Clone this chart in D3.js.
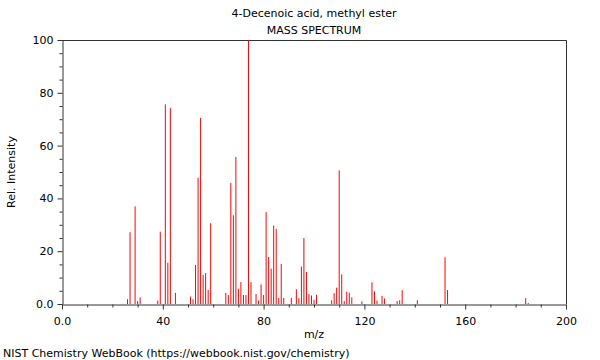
<!DOCTYPE html>
<html>
<head>
<meta charset="utf-8">
<script src="https://cdn.jsdelivr.net/npm/d3@7"></script>
<style>
  html, body { margin: 0; padding: 0; background: #fff; }
  svg { display: block; font-family: "DejaVu Sans", sans-serif; }
</style>
</head>
<body>
<svg id="chart" width="600" height="360"></svg>
<script>
// ---- Data ----
const mz = [26, 27, 29, 30, 31, 38, 39, 41, 42, 43, 45,
  51, 52, 53, 54, 55, 56, 57, 58, 59,
  65, 66, 67, 68, 69, 70, 71, 72, 73, 74, 75, 77, 78, 79, 80,
  81, 82, 83, 84, 85, 86, 87, 88, 91, 93, 94, 95, 96, 97, 98, 99, 100, 101,
  107, 108, 109, 110, 111, 112, 113, 114, 115, 119,
  123, 124, 125, 127, 128, 133, 134, 135, 141, 152, 153, 184, 185];
const intensity = [1.8, 27.2, 37.0, 1.1, 2.5, 1.3, 27.4, 75.6, 15.6, 74.2, 4.2,
  2.8, 1.8, 14.8, 47.8, 70.5, 11.0, 11.7, 5.3, 30.6,
  4.2, 3.4, 45.8, 33.6, 55.7, 5.8, 8.3, 3.4, 3.4, 100, 8.3, 3.8, 1.3, 7.4, 3.4,
  34.8, 17.8, 13.4, 29.7, 28.4, 2.3, 15.2, 2.3, 2.3, 5.6, 2.2, 14.2, 25.0, 12.1, 3.7, 3.2, 1.6, 3.5,
  1.4, 4.1, 6.2, 50.6, 11.2, 1.1, 4.6, 4.3, 2.5, 1.0,
  8.2, 4.8, 1.3, 3.1, 2.1, 1.1, 1.4, 5.2, 1.4, 17.7, 5.3, 2.2, 0.4];
const xMajorTicks = [0, 40, 80, 120, 160, 200];
const xMinorTicks = [10, 20, 30, 50, 60, 70, 90, 100, 110, 130, 140, 150, 170, 180, 190];
const yMajorTicks = [0, 20, 40, 60, 80, 100];
const yMinorTicks = [5, 10, 15, 25, 30, 35, 45, 50, 55, 65, 70, 75, 85, 90, 95];
const titleLines = ["4-Decenoic acid, methyl ester", "MASS SPECTRUM"];
const xLabel = "m/z";
const yLabel = "Rel. Intensity";
const footer = "NIST Chemistry WebBook (https://webbook.nist.gov/chemistry)";

// ---- Layout ----
const svg = d3.select("#chart");
const pL = 62, pR = 566, pT = 40, pB = 304;
const axisColor = "#333";
const fmt = d => d === 0 ? "0.0" : String(d);

const x = d3.scaleLinear().domain([0, 200]).range([pL, pR]);
const y = d3.scaleLinear().domain([0, 100]).range([pB, pT]);

// frame (top and right)
svg.append("path")
  .attr("d", `M${pL},${pT + 0.5}H${pR + 0.5}V${pB}`)
  .attr("fill", "none").attr("stroke", axisColor).attr("stroke-width", 1);

// peaks
svg.append("g").selectAll("line")
  .data(mz.map((m, i) => ({ m, v: intensity[i] })))
  .join("line")
  .attr("x1", d => x(d.m)).attr("x2", d => x(d.m))
  .attr("y1", y(0)).attr("y2", d => y(d.v))
  .attr("stroke", "#ff0000").attr("stroke-width", 1);

function styleAxis(g) {
  g.selectAll(".domain").attr("stroke", axisColor);
  g.selectAll(".tick line").attr("stroke", axisColor);
  g.selectAll(".tick text").attr("fill", "#000")
    .attr("font-family", "DejaVu Sans, sans-serif").attr("font-size", 11);
}

// x axis
const gx = svg.append("g").attr("transform", `translate(0,${pB + 0.5})`);
gx.call(d3.axisBottom(x).tickValues(xMajorTicks).tickFormat(fmt).tickSize(5).tickPadding(8).tickSizeOuter(0));
styleAxis(gx);
const gxm = svg.append("g").attr("transform", `translate(0,${pB + 0.5})`);
gxm.call(d3.axisBottom(x).tickValues(xMinorTicks).tickFormat("").tickSize(3).tickSizeOuter(0));
gxm.select(".domain").remove();
styleAxis(gxm);

// y axis
const gy = svg.append("g").attr("transform", `translate(${pL + 0.5},0)`);
gy.call(d3.axisLeft(y).tickValues(yMajorTicks).tickFormat(fmt).tickSize(5).tickPadding(4).tickSizeOuter(0));
styleAxis(gy);
const gym = svg.append("g").attr("transform", `translate(${pL + 0.5},0)`);
gym.call(d3.axisLeft(y).tickValues(yMinorTicks).tickFormat("").tickSize(3).tickSizeOuter(0));
gym.select(".domain").remove();
styleAxis(gym);

// titles
svg.append("text").attr("x", (pL + pR) / 2).attr("y", 17)
  .attr("text-anchor", "middle").attr("font-size", 11).text(titleLines[0]);
svg.append("text").attr("x", (pL + pR) / 2).attr("y", 34)
  .attr("text-anchor", "middle").attr("font-size", 11).text(titleLines[1]);

// axis labels
svg.append("text").attr("x", (pL + pR) / 2).attr("y", 338)
  .attr("text-anchor", "middle").attr("font-size", 11).text(xLabel);
svg.append("text").attr("transform", `translate(15,${(pT + pB) / 2}) rotate(-90)`)
  .attr("text-anchor", "middle").attr("font-size", 11).text(yLabel);

// footer
svg.append("text").attr("x", 3).attr("y", 357)
  .attr("font-size", 11).text(footer);
</script>
</body>
</html>
